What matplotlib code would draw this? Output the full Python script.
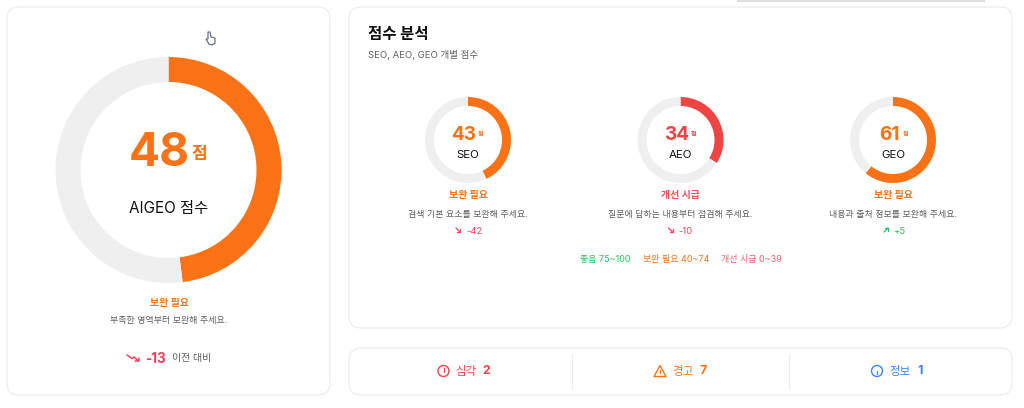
import matplotlib
matplotlib.use('Agg')
import matplotlib.pyplot as plt
from matplotlib.patches import FancyBboxPatch, Circle, Polygon

plt.rcParams['font.family'] = ['Inter', 'Noto Sans CJK KR', 'DejaVu Sans']

ORANGE = '#f97316'
RED = '#ef4444'
GREEN = '#22c55e'
BLUE = '#3b82f6'
TRACK = '#efefef'
BORDER = '#ebebed'
GRAY = '#5f5f5f'

total_score = 48
total_change = -13
names = ['SEO', 'AEO', 'GEO']
scores = [43, 34, 61]
changes = [-42, -10, 5]
statuses = ['보완 필요', '개선 시급', '보완 필요']
messages = ['검색 기본 요소를 보완해 주세요.', '질문에 답하는 내용부터 점검해 주세요.', '내용과 출처 정보를 보완해 주세요.']
score_colors = [ORANGE, RED, ORANGE]
legend_labels = ['좋음 75~100', '보완 필요 40~74', '개선 시급 0~39']
legend_colors = [GREEN, ORANGE, '#f4606a']
issue_labels = ['심각', '경고', '정보']
issue_counts = [2, 7, 1]
issue_colors = [RED, ORANGE, BLUE]

W, H = 1024, 408
fig = plt.figure(figsize=(W / 100, H / 100), dpi=100)
ax = fig.add_axes([0, 0, 1, 1])


def Y(y):
    return H - y


def label(x, y, s, px, color='#111111', weight='normal', ha='center', **kw):
    ax.text(x, Y(y + 1), s, fontsize=px * 0.72, color=color, fontweight=weight,
            ha=ha, va='center', **kw)


def card(x0, y0, x1, y1, r=12, ec=BORDER):
    ax.add_patch(FancyBboxPatch((x0 + r, Y(y1) + r), x1 - x0 - 2 * r, y1 - y0 - 2 * r,
                                boxstyle=f'round,pad={r},rounding_size={r}',
                                fc='white', ec=ec, lw=0.8))


def donut(cx, cy, radius, thick, score, color):
    ax.pie([score, 100 - score], colors=[color, TRACK], startangle=90, counterclock=False,
           center=(cx, Y(cy)), radius=radius,
           wedgeprops={'width': thick, 'linewidth': 0}, frame=False)


def line(xs, ys, color, lw=1.1):
    ax.plot(xs, [Y(v) for v in ys], color=color, lw=lw, solid_capstyle='round',
            solid_joinstyle='round')


# 카드
ax.add_patch(plt.Rectangle((737, Y(1.5)), 248, 1.5, fc='#dedede', ec='none'))
card(7, 7, 330, 395)
card(349, 7, 1012, 328)
card(349, 348, 1012, 395)

# 전체 점수
donut(168.5, 170, 113, 25, total_score, ORANGE)
label(159, 153, str(total_score), 46, ORANGE, 'bold')
label(199, 153, '점', 17, ORANGE, 'bold')
label(168.5, 207, 'AIGEO 점수', 15.3, '#111111')
label(169, 302, statuses[0], 10, ORANGE, 'bold')
label(168.5, 320, '부족한 영역부터 보완해 주세요.', 8.9, GRAY)
line([127, 132, 134, 138], [355, 358.5, 357, 360.5], '#f43f5e')
line([135, 138.5, 138.5], [360.5, 360.5, 357.5], '#f43f5e')
label(156, 358, str(total_change), 13.5, '#f43f5e', 'bold')
label(172, 357, '이전 대비', 10, GRAY, ha='left')

# 커서
ax.add_patch(Polygon([(208, Y(32)), (210, Y(32)), (211, Y(37)), (215, Y(38)), (215, Y(43)),
                      (212, Y(45)), (209, Y(44)), (206, Y(39)), (208, Y(39))],
                     fc='white', ec='#6b7280', lw=0.9))

# 점수 분석
label(368, 33, '점수 분석', 15.5, '#111111', 'bold', ha='left')
label(368, 53.5, 'SEO, AEO, GEO 개별 점수', 9.5, GRAY, ha='left')

centers = [468, 680.5, 893]
for cx, name, score, change, status, msg, col in zip(centers, names, scores, changes, statuses,
                                                     messages, score_colors):
    donut(cx, 140, 43, 9, score, col)
    label(cx - 4, 134, str(score), 19, col, 'bold')
    label(cx + 13, 133, '점', 6, col, 'bold')
    label(cx, 154, name, 11.5, '#111111')
    label(cx, 194, status, 10, col if col == ORANGE else '#f4505a', 'bold')
    label(cx, 213, msg, 8.9, GRAY)
    c = GREEN if change > 0 else '#f43f5e'
    if change > 0:
        line([cx - 9, cx - 5], [232, 228], c, 0.9)
        line([cx - 8, cx - 5, cx - 5], [228, 228, 231], c, 0.9)
    else:
        line([cx - 12, cx - 8], [228, 232], c, 0.9)
        line([cx - 11, cx - 8, cx - 8], [232, 232, 229], c, 0.9)
    label(cx - 2 if change < 0 else cx, 230, f'{change:+d}', 9.5, c, ha='left')

for x, s, c in zip([580, 643, 721], legend_labels, legend_colors):
    label(x, 258.5, s, 9, c, ha='left')

# 이슈 요약
for x in [572, 789]:
    line([x, x], [354, 389], '#ececee', 0.8)
icon_x = [443.5, 660, 877]
for x, s, n, c in zip(icon_x, issue_labels, issue_counts, issue_colors):
    if s == '경고':
        ax.add_patch(Polygon([(x, Y(365.5)), (x + 6, Y(376.5)), (x - 6, Y(376.5))], fc='none',
                             ec=c, lw=1.0, joinstyle='round'))
        line([x, x], [369.5, 372.5], c, 0.9)
        line([x, x], [374.6, 374.7], c, 0.9)
    else:
        ax.add_patch(Circle((x, Y(371)), 5.5, fc='none', ec=c, lw=1.0))
        if s == '심각':
            line([x, x], [368, 371.5], c, 0.9)
            line([x, x], [373.7, 373.8], c, 0.9)
        else:
            line([x, x], [370.5, 374], c, 0.9)
            line([x, x], [368.2, 368.3], c, 0.9)
    label(x + 12, 370, s, 11.5, c, ha='left')
    label(x + 43, 370, str(n), 12.5, c, 'bold', ha='center')

ax.set_xlim(0, W)
ax.set_ylim(0, H)
ax.set_aspect('auto')
ax.axis('off')
fig.savefig('out.png', dpi=100, facecolor='white')
